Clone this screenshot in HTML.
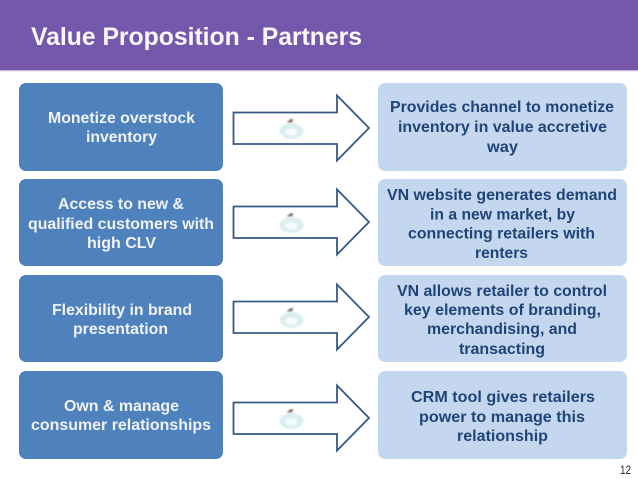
<!DOCTYPE html>
<html><head><meta charset="utf-8"><style>
html,body{margin:0;padding:0;background:#fff;width:638px;height:479px;overflow:hidden}
svg{display:block}
text{font-family:"Liberation Sans",sans-serif;font-weight:bold;font-size:15.4px;text-anchor:start}
.l text{fill:#f0f3f9}.r text{fill:#1f4478}
</style></head><body>
<svg width="638" height="479" viewBox="0 0 638 479" xmlns="http://www.w3.org/2000/svg">
<defs>
<filter id="b" x="-30%" y="-30%" width="160%" height="160%"><feGaussianBlur stdDeviation="0.9"/></filter>
<g id="arrow">
<path d="M233.5 112.5H337V95.5L369 128L337 160.5V144H233.5Z" fill="#fff" stroke="#365a86" stroke-width="1.8"/>
<g filter="url(#b)">
<ellipse cx="291.5" cy="131" rx="12" ry="8" fill="#dceff0"/>
<ellipse cx="291.5" cy="132" rx="6" ry="3.5" fill="#f6fbfb"/>
<path d="M286.5 122.5L290.5 119L293.5 119.5L292 122.5Z" fill="#8a7468"/>
</g>
</g>
</defs>
<rect width="638" height="70" fill="#7557ab"/>
<rect y="70" width="638" height="1.2" fill="#c7b6dc"/>
<text x="31" y="45" textLength="331" lengthAdjust="spacingAndGlyphs" style="font-size:25px;fill:#fbf9fd">Value Proposition - Partners</text>

<rect x="19" y="83" width="204" height="88" rx="7" fill="#4f81bd"/>
<rect x="19" y="179" width="204" height="87" rx="7" fill="#4f81bd"/>
<rect x="19" y="275" width="204" height="87" rx="7" fill="#4f81bd"/>
<rect x="19" y="371" width="204" height="88" rx="7" fill="#4f81bd"/>
<rect x="378" y="83" width="249" height="88" rx="7" fill="#c5d7ef"/>
<rect x="378" y="179" width="249" height="87" rx="7" fill="#c5d7ef"/>
<rect x="378" y="275" width="249" height="87" rx="7" fill="#c5d7ef"/>
<rect x="378" y="371" width="249" height="88" rx="7" fill="#c5d7ef"/>

<use href="#arrow"/>
<use href="#arrow" y="94"/>
<use href="#arrow" y="189"/>
<use href="#arrow" y="290"/>

<g class="l">
<text x="48" y="123" textLength="147" lengthAdjust="spacingAndGlyphs">Monetize overstock</text>
<text x="86" y="142" textLength="71" lengthAdjust="spacingAndGlyphs">inventory</text>
<text x="58" y="209" textLength="126" lengthAdjust="spacingAndGlyphs">Access to new &amp;</text>
<text x="28" y="229" textLength="186" lengthAdjust="spacingAndGlyphs">qualified customers with</text>
<text x="87" y="248" textLength="69" lengthAdjust="spacingAndGlyphs">high CLV</text>
<text x="52" y="315" textLength="140" lengthAdjust="spacingAndGlyphs">Flexibility in brand</text>
<text x="73" y="334" textLength="95" lengthAdjust="spacingAndGlyphs">presentation</text>
<text x="64" y="411" textLength="115" lengthAdjust="spacingAndGlyphs">Own &amp; manage</text>
<text x="31" y="430" textLength="180" lengthAdjust="spacingAndGlyphs">consumer relationships</text>
</g>
<g class="r">
<text x="390" y="112" textLength="224" lengthAdjust="spacingAndGlyphs">Provides channel to monetize</text>
<text x="398" y="132" textLength="209" lengthAdjust="spacingAndGlyphs">inventory in value accretive</text>
<text x="487" y="152" textLength="31" lengthAdjust="spacingAndGlyphs">way</text>
<text x="387" y="200" textLength="230" lengthAdjust="spacingAndGlyphs">VN website generates demand</text>
<text x="430" y="219.5" textLength="145" lengthAdjust="spacingAndGlyphs">in a new market, by</text>
<text x="408" y="238.5" textLength="187" lengthAdjust="spacingAndGlyphs">connecting retailers with</text>
<text x="475" y="258" textLength="53" lengthAdjust="spacingAndGlyphs">renters</text>
<text x="397" y="296" textLength="210" lengthAdjust="spacingAndGlyphs">VN allows retailer to control</text>
<text x="404" y="315" textLength="197" lengthAdjust="spacingAndGlyphs">key elements of branding,</text>
<text x="427" y="334" textLength="150" lengthAdjust="spacingAndGlyphs">merchandising, and</text>
<text x="459" y="354" textLength="86" lengthAdjust="spacingAndGlyphs">transacting</text>
<text x="411" y="402" textLength="184" lengthAdjust="spacingAndGlyphs">CRM tool gives retailers</text>
<text x="419" y="422" textLength="166" lengthAdjust="spacingAndGlyphs">power to manage this</text>
<text x="457" y="441" textLength="91" lengthAdjust="spacingAndGlyphs">relationship</text>
</g>
<text x="620" y="474" textLength="11" lengthAdjust="spacingAndGlyphs" style="font-size:11.5px;font-weight:normal;fill:#222">12</text>
</svg>
</body></html>
